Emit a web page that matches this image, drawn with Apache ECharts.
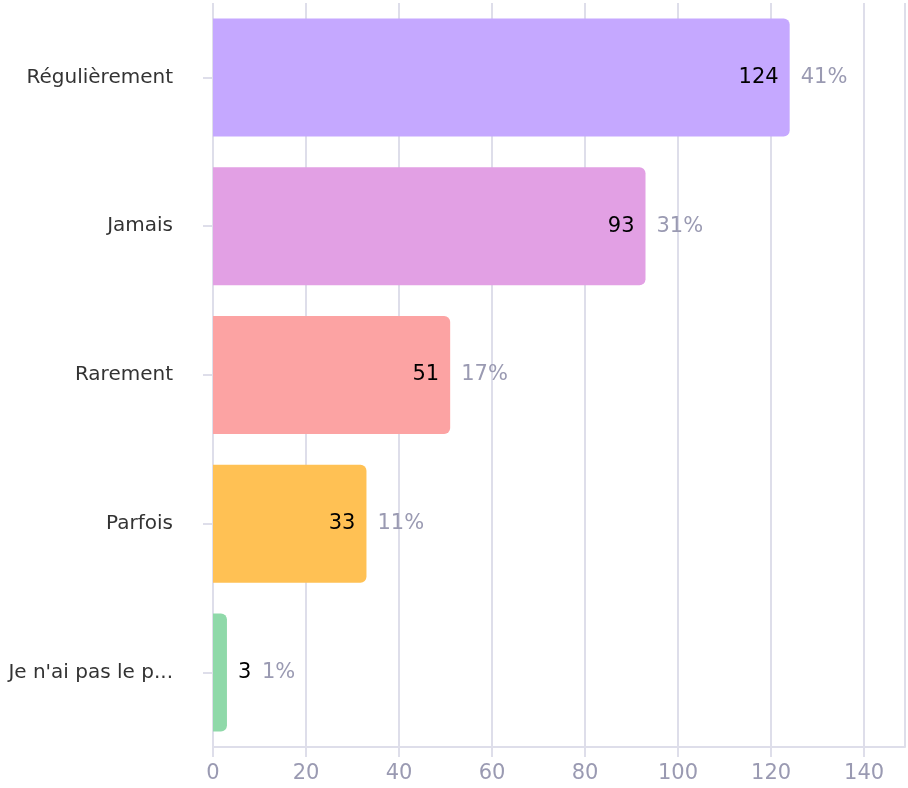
<!DOCTYPE html>
<html>
<head>
<meta charset="utf-8">
<script src="https://cdn.jsdelivr.net/npm/echarts@6/dist/echarts.min.js"></script>
<style>
  html, body { margin: 0; padding: 0; background: #fff; }
  #chart { width: 908px; height: 788px; }
</style>
</head>
<body>
<div id="chart"></div>
<script>
var categories = ['Régulièrement', 'Jamais', 'Rarement', 'Parfois', "Je n'ai pas le p..."];
var counts = [124, 93, 51, 33, 3];
var percents = ['41%', '31%', '17%', '11%', '1%'];
var colors = ['#c5a8ff', '#e2a0e4', '#fca3a3', '#ffc154', '#8fd9a9'];

var font = '"DejaVu Sans", sans-serif';
var lineColor = '#dedeea';

// bars too short to hold their value get it outside, before the percentage
var minInside = 10;

var myChart = echarts.init(document.getElementById('chart'));

var option = {
    animation: false,
    grid: { left: 213, right: 3, top: 3, bottom: 41, containLabel: false, outerBoundsMode: 'none' },
    xAxis: {
        type: 'value',
        min: 0,
        max: 148.8,
        interval: 20,
        axisLine: { show: true, lineStyle: { color: lineColor, width: 2 } },
        axisTick: { show: true, length: 10, lineStyle: { color: lineColor, width: 2 } },
        splitLine: { show: true, lineStyle: { color: lineColor, width: 2 } },
        axisLabel: {
            showMaxLabel: false,
            margin: 16,
            color: '#9a9ab2',
            fontSize: 21,
            fontFamily: font
        }
    },
    yAxis: {
        type: 'category',
        inverse: true,
        data: categories,
        axisLine: { show: false },
        axisTick: { show: true, length: 10, alignWithLabel: true, lineStyle: { color: lineColor, width: 2 } },
        axisLabel: {
            margin: 40,
            color: '#333',
            fontSize: 20,
            fontFamily: font,
            padding: [4, 0, 0, 0]
        }
    },
    series: [
        {
            type: 'bar',
            barWidth: 118,
            data: counts.map(function (v, i) {
                var item = { value: v, itemStyle: { color: colors[i] } };
                if (v < minInside) item.label = { position: 'right' };
                return item;
            }),
            itemStyle: { borderRadius: [0, 6, 6, 0] },
            label: {
                show: true,
                position: 'insideRight',
                distance: 11,
                color: '#000',
                fontSize: 21,
                fontFamily: font
            },
            z: 2
        },
        {
            type: 'bar',
            barWidth: 118,
            barGap: '-100%',
            data: counts.map(function (v) {
                var item = { value: v };
                if (v < minInside) item.label = { offset: [24, 0] };
                return item;
            }),
            itemStyle: { color: 'rgba(0,0,0,0)' },
            label: {
                show: true,
                position: 'right',
                distance: 11,
                color: '#9a9ab2',
                fontSize: 21,
                fontFamily: font,
                formatter: function (p) { return percents[p.dataIndex]; }
            },
            silent: true,
            z: 3
        }
    ]
};

myChart.setOption(option);
</script>
</body>
</html>
